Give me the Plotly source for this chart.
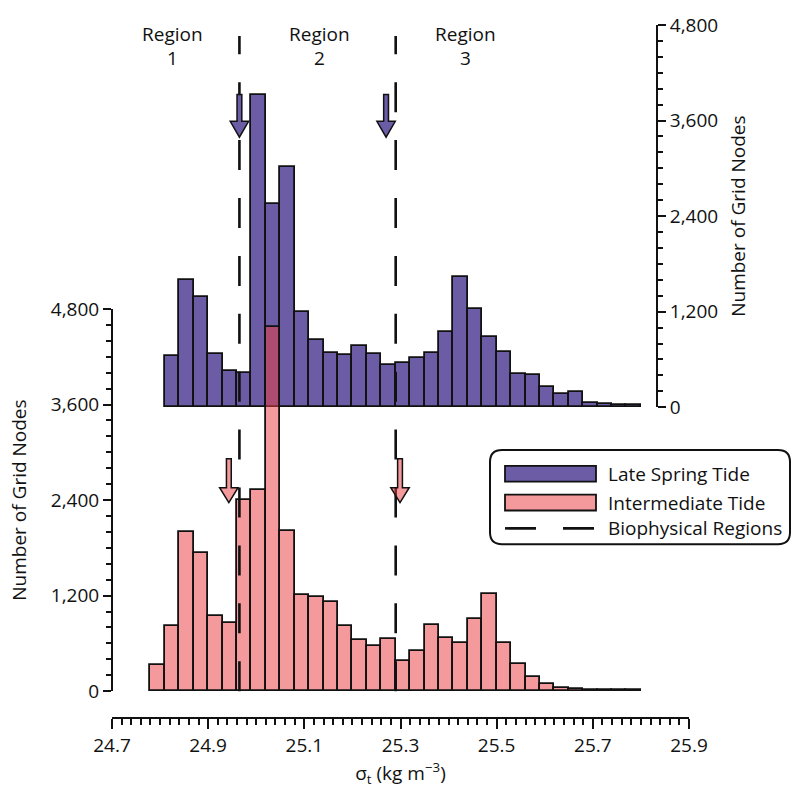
import plotly.graph_objects as go

# ---------------- data ----------------
bin_centers = [24.795, 24.825, 24.855, 24.885, 24.915, 24.945, 24.975, 25.005,
               25.035, 25.065, 25.095, 25.125, 25.155, 25.185, 25.215, 25.245,
               25.275, 25.305, 25.335, 25.365, 25.395, 25.425, 25.455, 25.485,
               25.515, 25.545, 25.575, 25.605, 25.635, 25.665, 25.695, 25.725,
               25.755, 25.785]
bin_width = 0.03

late_spring = [None, 644, 1592, 1384, 673, 457, 436, 3919, 2548, 3017, 1201,
               839, 677, 652, 765, 673, 528, 561, 615, 686, 948, 1633, 1238,
               877, 694, 420, 403, 249, 166, 195, 58, 42, 33, 33]
intermediate = [332, 819, 1999, 1733, 948, 856, 2398, 2531, 4572, 2016, 1214,
                1184, 1126, 823, 648, 565, 661, 374, 511, 827, 665, 611, 906,
                1218, 607, 337, 179, 96, 46, 29, 17, 12, 12, 12]

region_boundaries = [24.965, 25.29]
region_names = ["1", "2", "3"]
region_label_x = [24.826, 25.131, 25.436]
late_arrow_x = [24.965, 25.27]
inter_arrow_x = [24.943, 25.299]

x_label_vals = [24.7, 24.9, 25.1, 25.3, 25.5, 25.7, 25.9]
x_label_text = ["24.7", "24.9", "25.1", "25.3", "25.5", "25.7", "25.9"]
x_major_vals = [24.7, 24.8, 24.9, 25.0, 25.1, 25.2, 25.3, 25.4, 25.5, 25.6, 25.7, 25.8, 25.9]
y_tick_vals = [0, 1200, 2400, 3600, 4800]

# ---------------- style / layout ----------------
W, H = 796, 791
ML, MR, MT, MB = 112, 107, 20, 73
PW, PH = W - ML - MR, H - MT - MB
XR = [24.7, 25.9]
KX = PW / (XR[1] - XR[0])          # px per data unit


def py(y_px):                       # pixel row -> paper y
    return (H - MB - y_px) / PH


def px(x_px):                       # pixel column -> paper x
    return (x_px - ML) / PW


PURPLE = "rgb(107,92,165)"
PINK_T = "rgba(234,59,65,0.52)"
PINK_O = "rgb(244,153,156)"
INK = "#111111"
FONT = "Open Sans"
FS = 19

fig = go.Figure()

fig.add_trace(go.Bar(
    x=bin_centers, y=late_spring, width=bin_width, name="Late Spring Tide",
    marker=dict(color=PURPLE, line=dict(color=INK, width=1.8)),
    xaxis="x", yaxis="y", showlegend=False))

fig.add_trace(go.Bar(
    x=bin_centers, y=intermediate, width=bin_width, name="Intermediate Tide",
    marker=dict(color=PINK_T, line=dict(color=INK, width=1.8)),
    xaxis="x", yaxis="y2", showlegend=False))

shapes = []
# biophysical region boundaries
for xb in region_boundaries:
    shapes.append(dict(type="line", xref="x", yref="paper", x0=xb, x1=xb,
                       y0=py(691), y1=py(31), layer="above",
                       line=dict(color=INK, width=2.6, dash="30px,27.9px")))


def arrow(xc, top, head, tip, fill):
    hw, hh = 2.4 / KX, 9.2 / KX
    path = (f"M{xc-hw},{py(top)} L{xc+hw},{py(top)} L{xc+hw},{py(head)} "
            f"L{xc+hh},{py(head)} L{xc},{py(tip)} L{xc-hh},{py(head)} "
            f"L{xc-hw},{py(head)} Z")
    return dict(type="path", xref="x", yref="paper", path=path, layer="above",
                fillcolor=fill, line=dict(color=INK, width=1.5))


for xa in late_arrow_x:
    shapes.append(arrow(xa, 90, 117, 133, PURPLE))
for xa in inter_arrow_x:
    shapes.append(arrow(xa, 457, 486, 501, PINK_T))

# manual legend
bx0, bx1, by0, by1, r = 490, 790, 448, 543, 12
box = (f"M{px(bx0+r)},{py(by0)} L{px(bx1-r)},{py(by0)} "
       f"Q{px(bx1)},{py(by0)} {px(bx1)},{py(by0+r)} "
       f"L{px(bx1)},{py(by1-r)} Q{px(bx1)},{py(by1)} {px(bx1-r)},{py(by1)} "
       f"L{px(bx0+r)},{py(by1)} Q{px(bx0)},{py(by1)} {px(bx0)},{py(by1-r)} "
       f"L{px(bx0)},{py(by0+r)} Q{px(bx0)},{py(by0)} {px(bx0+r)},{py(by0)} Z")
shapes.append(dict(type="path", xref="paper", yref="paper", path=box,
                   fillcolor="white", line=dict(color=INK, width=2), layer="above"))
shapes.append(dict(type="rect", xref="paper", yref="paper",
                   x0=px(505), x1=px(596), y0=py(480), y1=py(464),
                   fillcolor=PURPLE, line=dict(color=INK, width=1.8), layer="above"))
shapes.append(dict(type="rect", xref="paper", yref="paper",
                   x0=px(505), x1=px(596), y0=py(509), y1=py(493),
                   fillcolor=PINK_O, line=dict(color=INK, width=1.8), layer="above"))
shapes.append(dict(type="line", xref="paper", yref="paper",
                   x0=px(505), x1=px(595), y0=py(527), y1=py(527), layer="above",
                   line=dict(color=INK, width=2.6, dash="31px,27px")))

annotations = []
for name, yc in zip(["Late Spring Tide", "Intermediate Tide", "Biophysical Regions"],
                    [472, 501, 527]):
    annotations.append(dict(text=name, xref="paper", yref="paper", x=px(606), y=py(yc),
                            xanchor="left", yanchor="middle", showarrow=False,
                            font=dict(family=FONT, size=FS, color=INK)))
for xl, nm in zip(region_label_x, region_names):
    annotations.append(dict(text="Region", xref="x", yref="paper", x=xl, y=py(29),
                            xanchor="center", yanchor="middle", showarrow=False,
                            font=dict(family=FONT, size=FS, color=INK)))
    annotations.append(dict(text=nm, xref="x", yref="paper", x=xl, y=py(53),
                            xanchor="center", yanchor="middle", showarrow=False,
                            font=dict(family=FONT, size=FS, color=INK)))

yaxis_common = dict(
    range=[0, 4800], tickvals=y_tick_vals, tickformat=",d",
    ticks="outside", ticklen=8, tickwidth=1.8, tickcolor=INK,
    showline=True, linecolor=INK, linewidth=2, showgrid=False, zeroline=False,
    minor=dict(dtick=200, ticks="outside", ticklen=5, tickwidth=1.6, tickcolor=INK),
    tickfont=dict(family=FONT, size=FS, color=INK), anchor="free", fixedrange=True,
)

fig.update_layout(
    width=W, height=H,
    margin=dict(l=ML, r=MR, t=MT, b=MB),
    paper_bgcolor="white", plot_bgcolor="rgba(0,0,0,0)",
    barmode="overlay", bargap=0,
    showlegend=False,
    font=dict(family=FONT, size=FS, color=INK),
    xaxis=dict(
        range=XR, tickvals=x_label_vals, ticktext=x_label_text,
        ticks="outside", ticklen=10, tickwidth=1.8, tickcolor=INK,
        showline=True, linecolor=INK, linewidth=2, showgrid=False, zeroline=False,
        minor=dict(dtick=0.02, ticks="outside", ticklen=6, tickwidth=1.6, tickcolor=INK),
        tickfont=dict(family=FONT, size=FS, color=INK),
        anchor="free", position=0, fixedrange=True,
        title=dict(text="σ<sub>t</sub> (kg m<sup>−3</sup>)",
                   font=dict(family=FONT, size=FS, color=INK), standoff=6),
    ),
    xaxis2=dict(
        range=XR, tickvals=x_major_vals, showticklabels=False,
        ticks="outside", ticklen=10, tickwidth=1.8, tickcolor=INK,
        showline=False, showgrid=False, zeroline=False,
        overlaying="x", anchor="free", position=0, fixedrange=True,
    ),
    yaxis=dict(
        **yaxis_common, domain=[py(405), 1.0], side="right",
        position=px(657),
        title=dict(text="Number of Grid Nodes",
                   font=dict(family=FONT, size=FS, color=INK), standoff=14),
    ),
    yaxis2=dict(
        **yaxis_common, domain=[py(691), py(306)], side="left",
        position=0,
        title=dict(text="Number of Grid Nodes",
                   font=dict(family=FONT, size=FS, color=INK), standoff=18),
    ),
    shapes=shapes,
    annotations=annotations,
)

fig.write_html(
    "out.html",
    config={"displayModeBar": False},
    post_script="document.body.style.margin='0px';"
                "document.documentElement.style.overflow='hidden';",
)
